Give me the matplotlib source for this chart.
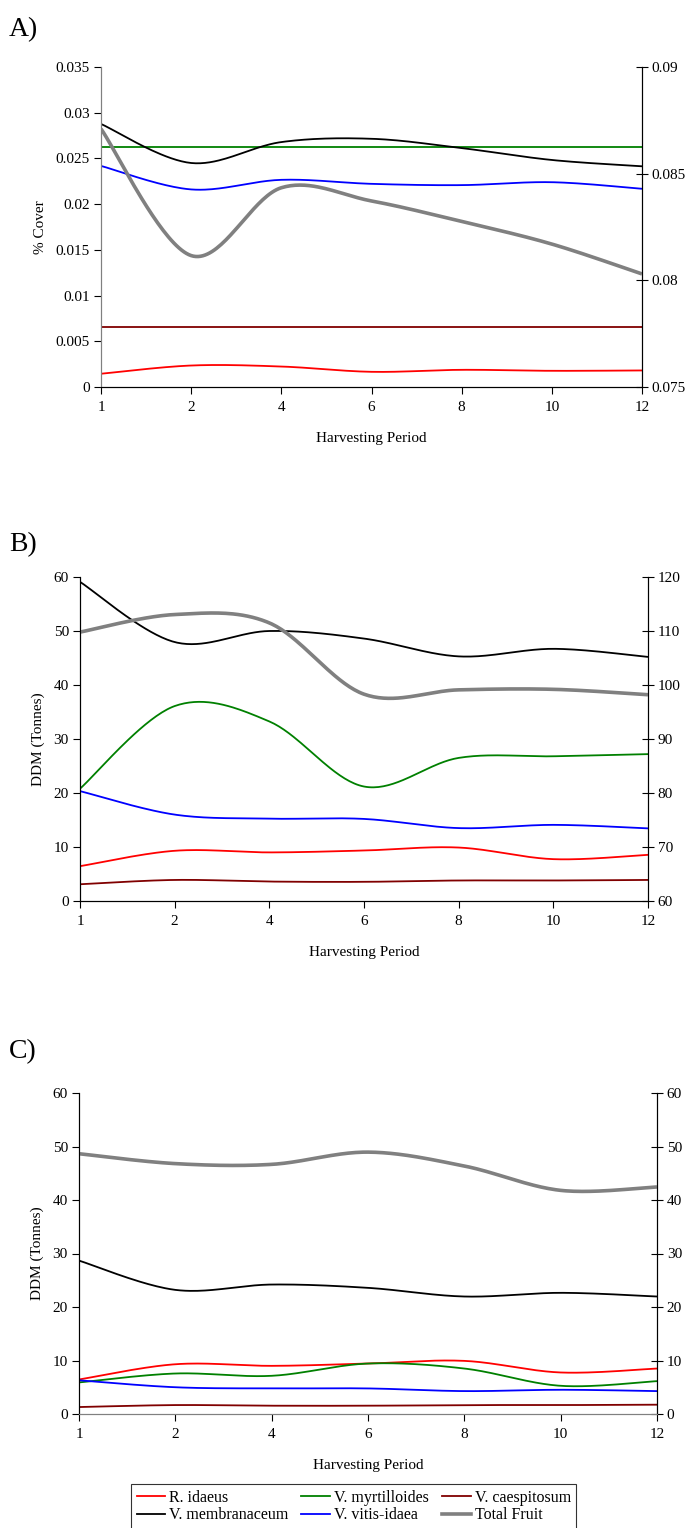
import numpy as np
import matplotlib
matplotlib.use("Agg")
import matplotlib.pyplot as plt
from matplotlib.lines import Line2D

plt.rcParams['font.family'] = ['Liberation Serif', 'DejaVu Serif']
plt.rcParams['font.size'] = 11

periods = ["1", "2", "4", "6", "8", "10", "12"]

names = ["R. idaeus", "V. myrtilloides", "V. caespitosum",
         "V. membranaceum", "V. vitis-idaea", "Total Fruit"]
colors = ["#FF0000", "#008000", "#800000", "#000000", "#0000FF", "#808080"]
widths = [1.3, 1.3, 1.3, 1.3, 1.3, 2.6]

# A) % cover
a_idaeus = [0.00145, 0.00235, 0.00224, 0.00166, 0.00188, 0.00177, 0.00181]
a_myrt = [0.02624] * 7
a_caesp = [0.00651] * 7
a_memb = [0.02877, 0.02450, 0.02679, 0.02715, 0.02613, 0.02483, 0.02414]
a_vitis = [0.02418, 0.02161, 0.02266, 0.02222, 0.02208, 0.02240, 0.02168]
a_total = [0.0871, 0.08116, 0.08434, 0.08372, 0.08276, 0.0817, 0.0803]  # right axis

# B) DDM (tonnes)
b_idaeus = [6.45, 9.3, 9.0, 9.35, 9.9, 7.75, 8.55]
b_myrt = [20.8, 36.1, 33.25, 21.2, 26.5, 26.8, 27.2]
b_caesp = [3.1, 3.9, 3.6, 3.55, 3.8, 3.8, 3.9]
b_memb = [59.1, 47.95, 50.0, 48.6, 45.3, 46.7, 45.2]
b_vitis = [20.35, 16.0, 15.25, 15.2, 13.5, 14.1, 13.45]
b_total = [109.8, 113.05, 111.5, 98.3, 99.1, 99.2, 98.2]  # right axis

# C) DDM (tonnes)
c_idaeus = [6.45, 9.3, 9.0, 9.43, 9.93, 7.76, 8.5]
c_myrt = [5.9, 7.57, 7.14, 9.43, 8.5, 5.27, 6.14]
c_caesp = [1.3, 1.67, 1.55, 1.55, 1.67, 1.67, 1.74]
c_memb = [28.67, 23.2, 24.2, 23.58, 21.96, 22.65, 21.96]
c_vitis = [6.3, 5.0, 4.78, 4.78, 4.28, 4.53, 4.28]
c_total = [48.65, 46.8, 46.66, 48.95, 46.35, 41.8, 42.44]  # right axis


def smooth(xs, ys, n=40):
    # Excel-style smoothed line (Bezier through points, 1/6 control factor)
    xs = np.asarray(xs, float)
    ys = np.asarray(ys, float)
    px = np.concatenate([[xs[0]], xs, [xs[-1]]])
    py = np.concatenate([[ys[0]], ys, [ys[-1]]])
    outx, outy = [], []
    t = np.linspace(0, 1, n)
    for i in range(1, len(px) - 2):
        p0 = np.array([px[i], py[i]])
        p3 = np.array([px[i + 1], py[i + 1]])
        c1 = p0 + (np.array([px[i + 1], py[i + 1]]) - np.array([px[i - 1], py[i - 1]])) / 6
        c2 = p3 - (np.array([px[i + 2], py[i + 2]]) - np.array([px[i], py[i]])) / 6
        b = ((1 - t) ** 3)[:, None] * p0 + (3 * (1 - t) ** 2 * t)[:, None] * c1 \
            + (3 * (1 - t) * t ** 2)[:, None] * c2 + (t ** 3)[:, None] * p3
        outx.extend(b[:, 0])
        outy.extend(b[:, 1])
    return outx, outy


def panel(rect, left_series, right_series, ylim, yticks, ylim2, yticks2,
          ylabel, ytickfmt, ytickfmt2, spine_col="black", bottom_col="black"):
    ax = fig.add_axes(rect)
    ax2 = ax.twinx()
    x = np.arange(len(periods))
    for vals, c, w in left_series:
        sx, sy = smooth(x, vals)
        ax.plot(sx, sy, color=c, lw=w, solid_capstyle='butt')
    for vals, c, w in right_series:
        sx, sy = smooth(x, vals)
        ax2.plot(sx, sy, color=c, lw=w, solid_capstyle='butt')
    ax.set_xlim(0, len(periods) - 1)
    ax.set_ylim(*ylim)
    ax.set_yticks(yticks)
    ax.set_yticklabels([ytickfmt(v) for v in yticks])
    ax2.set_ylim(*ylim2)
    ax2.set_yticks(yticks2)
    ax2.set_yticklabels([ytickfmt2(v) for v in yticks2])
    ax.set_xticks(x)
    ax.set_xticklabels(periods)
    ax.set_xlabel("Harvesting Period", labelpad=13)
    ax.set_ylabel(ylabel, labelpad=6)
    for a in (ax, ax2):
        a.spines['top'].set_visible(False)
        a.spines['left'].set_color(spine_col)
        a.spines['right'].set_color("black")
        a.spines['bottom'].set_color(bottom_col)
        a.patch.set_visible(False)
    ax.tick_params(axis='y', direction='out', length=5, width=0.8, pad=3)
    ax.tick_params(axis='x', direction='out', length=5, width=0.8, pad=5)
    ax2.tick_params(axis='y', direction='inout', length=8, width=0.8, pad=3)
    return ax, ax2


fig = plt.figure(figsize=(6.93, 15.28), dpi=100)
W, H = 693.0, 1528.0


def rect(l, r, t, b):
    return [l / W, 1 - b / H, (r - l) / W, (b - t) / H]


# A
panel(rect(101, 642, 67, 387),
      [(a_idaeus, colors[0], widths[0]), (a_myrt, colors[1], widths[1]),
       (a_caesp, colors[2], widths[2]), (a_memb, colors[3], widths[3]),
       (a_vitis, colors[4], widths[4])],
      [(a_total, colors[5], widths[5])],
      (0, 0.035), [0, 0.005, 0.01, 0.015, 0.02, 0.025, 0.03, 0.035],
      (0.075, 0.09), [0.075, 0.08, 0.085, 0.09],
      "% Cover", lambda v: "0" if v == 0 else ("%g" % v), lambda v: "%g" % v,
      spine_col="#808080")

# B
panel(rect(80, 648, 577, 901),
      [(b_idaeus, colors[0], widths[0]), (b_myrt, colors[1], widths[1]),
       (b_caesp, colors[2], widths[2]), (b_memb, colors[3], widths[3]),
       (b_vitis, colors[4], widths[4])],
      [(b_total, colors[5], widths[5])],
      (0, 60), [0, 10, 20, 30, 40, 50, 60],
      (60, 120), [60, 70, 80, 90, 100, 110, 120],
      "DDM (Tonnes)", lambda v: "%d" % v, lambda v: "%d" % v)

# C
panel(rect(79, 657, 1093, 1414),
      [(c_idaeus, colors[0], widths[0]), (c_myrt, colors[1], widths[1]),
       (c_caesp, colors[2], widths[2]), (c_memb, colors[3], widths[3]),
       (c_vitis, colors[4], widths[4])],
      [(c_total, colors[5], widths[5])],
      (0, 60), [0, 10, 20, 30, 40, 50, 60],
      (0, 60), [0, 10, 20, 30, 40, 50, 60],
      "DDM (Tonnes)", lambda v: "%d" % v, lambda v: "%d" % v,
      bottom_col="#808080")

fig.text(9 / W, 1 - 30 / H, "A)", fontsize=20, va='center', ha='left')
fig.text(9 / W, 1 - 545 / H, "B)", fontsize=20, va='center', ha='left')
fig.text(9 / W, 1 - 1052 / H, "C)", fontsize=20, va='center', ha='left')

handles = [Line2D([], [], color=c, lw=w) for c, w in zip(colors, widths)]
order = [0, 3, 1, 4, 2, 5]
leg = fig.legend([handles[i] for i in order], [names[i] for i in order],
                 ncol=3, loc='upper left', bbox_to_anchor=(131 / W, 1 - 1484 / H),
                 fontsize=11.5, frameon=True, fancybox=False, edgecolor='black',
                 handlelength=1.8, handletextpad=0.25, columnspacing=0.8,
                 borderpad=0.35, labelspacing=0.1, borderaxespad=0)
leg.get_frame().set_linewidth(0.8)

fig.savefig("out.png", dpi=100)
